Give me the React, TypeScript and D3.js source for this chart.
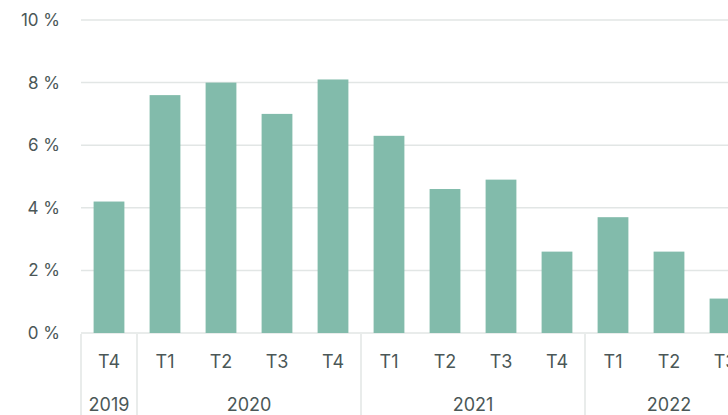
import React, { useEffect, useRef } from "react";
import * as d3 from "d3";

const quarters = ["T4", "T1", "T2", "T3", "T4", "T1", "T2", "T3", "T4", "T1", "T2", "T3"];
const years = ["2019", "2020", "2020", "2020", "2020", "2021", "2021", "2021", "2021", "2022", "2022", "2022"];
const values = [4.2, 7.6, 8.0, 7.0, 8.1, 6.3, 4.6, 4.9, 2.6, 3.7, 2.6, 1.1];
const yTicks = [0, 2, 4, 6, 8, 10];

const W = 728;
const H = 415;
const FONT = "Inter, 'Open Sans', sans-serif";
const TEXT = "#4b5757";
const GRID = "#e2e6e5";
const BAR = "#82bbab";

export default function App() {
  const ref = useRef<SVGSVGElement>(null);

  useEffect(() => {
    const svg = d3.select(ref.current);
    svg.selectAll("*").remove();

    const left = 81;
    const step = 56;
    const ids = values.map((_, i) => String(i));
    const x = d3.scaleBand<string>().domain(ids).range([left, left + step * ids.length]).paddingInner(0.45).paddingOuter(0.225);
    const y = d3.scaleLinear().domain([0, 10]).range([333, 20]);

    // gridlines
    svg.append("g").selectAll("line").data(yTicks).join("line")
      .attr("x1", left).attr("x2", W)
      .attr("y1", d => y(d)).attr("y2", d => y(d))
      .attr("stroke", GRID).attr("stroke-width", 1.5);

    // y labels
    svg.append("g").selectAll("text").data(yTicks).join("text")
      .attr("x", 60).attr("y", d => y(d)).attr("dy", "0.35em")
      .attr("text-anchor", "end").attr("font-family", FONT).attr("font-size", 17)
      .attr("fill", TEXT).text(d => `${d} %`);

    // bars
    svg.append("g").selectAll("rect").data(values).join("rect")
      .attr("x", (_, i) => x(String(i))!)
      .attr("width", x.bandwidth())
      .attr("y", d => y(d))
      .attr("height", d => y(0) - y(d))
      .attr("fill", BAR);

    // quarter labels
    svg.append("g").selectAll("text").data(quarters).join("text")
      .attr("x", (_, i) => x(String(i))! + x.bandwidth() / 2)
      .attr("y", 368)
      .attr("text-anchor", "middle").attr("font-family", FONT).attr("font-size", 18)
      .attr("fill", TEXT).text(d => d);

    // year groups
    const groups: { year: string; start: number; end: number }[] = [];
    years.forEach((yr, i) => {
      const g = groups[groups.length - 1];
      if (g && g.year === yr) g.end = i;
      else groups.push({ year: yr, start: i, end: i });
    });
    const bandStart = (i: number) => left + step * i;

    svg.append("g").selectAll("line").data(groups).join("line")
      .attr("x1", d => bandStart(d.start)).attr("x2", d => bandStart(d.start))
      .attr("y1", 334).attr("y2", H)
      .attr("stroke", GRID).attr("stroke-width", 1.5);

    svg.append("g").selectAll("text").data(groups).join("text")
      .attr("x", d => (bandStart(d.start) + bandStart(d.end + 1)) / 2)
      .attr("y", 411)
      .attr("text-anchor", "middle").attr("font-family", FONT).attr("font-size", 18)
      .attr("fill", TEXT).text(d => d.year);
  }, []);

  return (
    <svg ref={ref} width={W} height={H} style={{ position: "absolute", left: 0, top: 0, display: "block", background: "#fff" }} />
  );
}
